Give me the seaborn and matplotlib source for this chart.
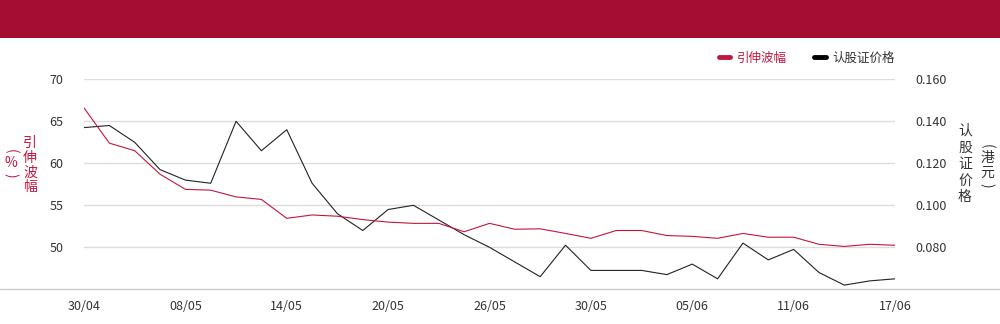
import matplotlib
matplotlib.use("Agg")
import matplotlib.pyplot as plt
from matplotlib.lines import Line2D
from matplotlib.patches import Rectangle
import seaborn as sns
import pandas as pd
import numpy as np

# ---------------- data ----------------
tick_labels = ["30/04", "08/05", "14/05", "20/05", "26/05", "30/05", "05/06", "11/06", "17/06"]
tick_step = 4

implied_vol = [66.6, 62.4, 61.5, 58.7, 56.9, 56.8, 56.0, 55.7, 53.45, 53.85,
               53.7, 53.3, 53.0, 52.85, 52.85, 51.85, 52.85, 52.15, 52.2, 51.65,
               51.07, 52.0, 52.0, 51.4, 51.3, 51.07, 51.65, 51.2, 51.2, 50.36,
               50.1, 50.36, 50.24]
warrant_price = [0.137, 0.138, 0.130, 0.117, 0.112, 0.1105, 0.140, 0.126, 0.136, 0.1105,
                 0.096, 0.088, 0.098, 0.100, 0.093, 0.086, 0.080, 0.073, 0.066, 0.081,
                 0.069, 0.069, 0.069, 0.067, 0.072, 0.065, 0.082, 0.074, 0.079, 0.068,
                 0.062, 0.064, 0.065]

left_ticks = [50, 55, 60, 65, 70]
right_ticks = [0.08, 0.10, 0.12, 0.14, 0.16]

series_names = ["引伸波幅", "认股证价格"]
left_label_main = "引伸波幅"
left_label_unit = "(%)"
right_label_main = "认股证价格"
right_label_unit = "(港元)"

# ---------------- style ----------------
RED = "#C0173F"
BANNER = "#A50E32"
DARK = "#222222"
TXT = "#333333"

sns.set_theme(style="white")
plt.rcParams["font.family"] = ["Noto Sans CJK SC", "DejaVu Sans"]
plt.rcParams["axes.unicode_minus"] = False

df = pd.DataFrame({"idx": np.arange(len(implied_vol)),
                   "vol": implied_vol, "price": warrant_price})

W, H = 1000, 324
fig = plt.figure(figsize=(W / 100, H / 100), dpi=100)
fig.patch.set_facecolor("white")

ax_bottom = 1 - 289.3 / H
ax_top = 1 - 79.3 / H
ax = fig.add_axes([0.084, ax_bottom, 0.811, ax_top - ax_bottom])
ax2 = ax.twinx()

sns.lineplot(data=df, x="idx", y="price", ax=ax2, color=DARK, linewidth=0.8, legend=False)
sns.lineplot(data=df, x="idx", y="vol", ax=ax, color=RED, linewidth=0.8, legend=False)

ax.set_zorder(ax2.get_zorder() + 1)
ax.patch.set_visible(False)

ax.set_xlim(0, len(implied_vol) - 1)
ax.set_ylim(45, 70)
ax2.set_ylim(0.06, 0.16)

ax.set_xticks(list(range(0, len(implied_vol), tick_step)))
ax.set_xticklabels(tick_labels)
ax.set_yticks(left_ticks)
ax.set_yticklabels([str(t) for t in left_ticks])
ax2.set_yticks(right_ticks)
ax2.set_yticklabels([f"{t:.3f}" for t in right_ticks])

ax.grid(False)
ax2.grid(False)
ax2.yaxis.grid(True, color="#dcdcdc", linewidth=1)
ax2.set_axisbelow(True)

for a in (ax, ax2):
    for s in a.spines.values():
        s.set_visible(False)
    a.set_xlabel("")
    a.set_ylabel("")

ax.tick_params(axis="x", length=0, pad=8, labelsize=9, labelcolor=TXT)
ax.tick_params(axis="y", length=0, pad=15, labelsize=9, labelcolor=TXT)
ax2.tick_params(axis="y", length=0, pad=15, labelsize=9, labelcolor=TXT)

# baseline across the full width
fig.add_artist(Line2D([0, 1], [ax_bottom, ax_bottom], transform=fig.transFigure,
                      color="#cccccc", linewidth=1))
# banner
fig.add_artist(Rectangle((0, 1 - 38 / H), 1, 38 / H, transform=fig.transFigure,
                         facecolor=BANNER, edgecolor="none"))


def vertical_text(text, x_px, y_px_list, color, size=10):
    """Draw characters stacked vertically; parentheses rotated as in vertical writing."""
    for ch, y in zip(text, y_px_list):
        rot = 270 if ch in "()" else 0
        fig.text(x_px / W, 1 - y / H, ch, color=color, fontsize=size,
                 ha="center", va="center", rotation=rot, rotation_mode="anchor")


vertical_text(left_label_main, 30, [142.5, 157.5, 172.5, 187.5], RED)
vertical_text(left_label_unit, 11, [151, 163, 175], RED)
vertical_text(right_label_main, 965, [131, 147.5, 164, 180.5, 197], TXT)
vertical_text(right_label_unit, 987, [146, 158, 173, 185], TXT)

# legend
handles = [Line2D([], [], color=RED, linewidth=3.5),
           Line2D([], [], color="#000000", linewidth=3.5)]
leg = fig.legend(handles, series_names, loc="center right",
                 bbox_to_anchor=(0.895, 1 - 58 / H), bbox_transform=fig.transFigure,
                 ncol=2, frameon=False, fontsize=9, handlelength=0.9,
                 handletextpad=0.55, columnspacing=2.2, borderpad=0, borderaxespad=0,
                 labelcolor=[RED, TXT])

fig.savefig("out.png", dpi=100, facecolor="white")
